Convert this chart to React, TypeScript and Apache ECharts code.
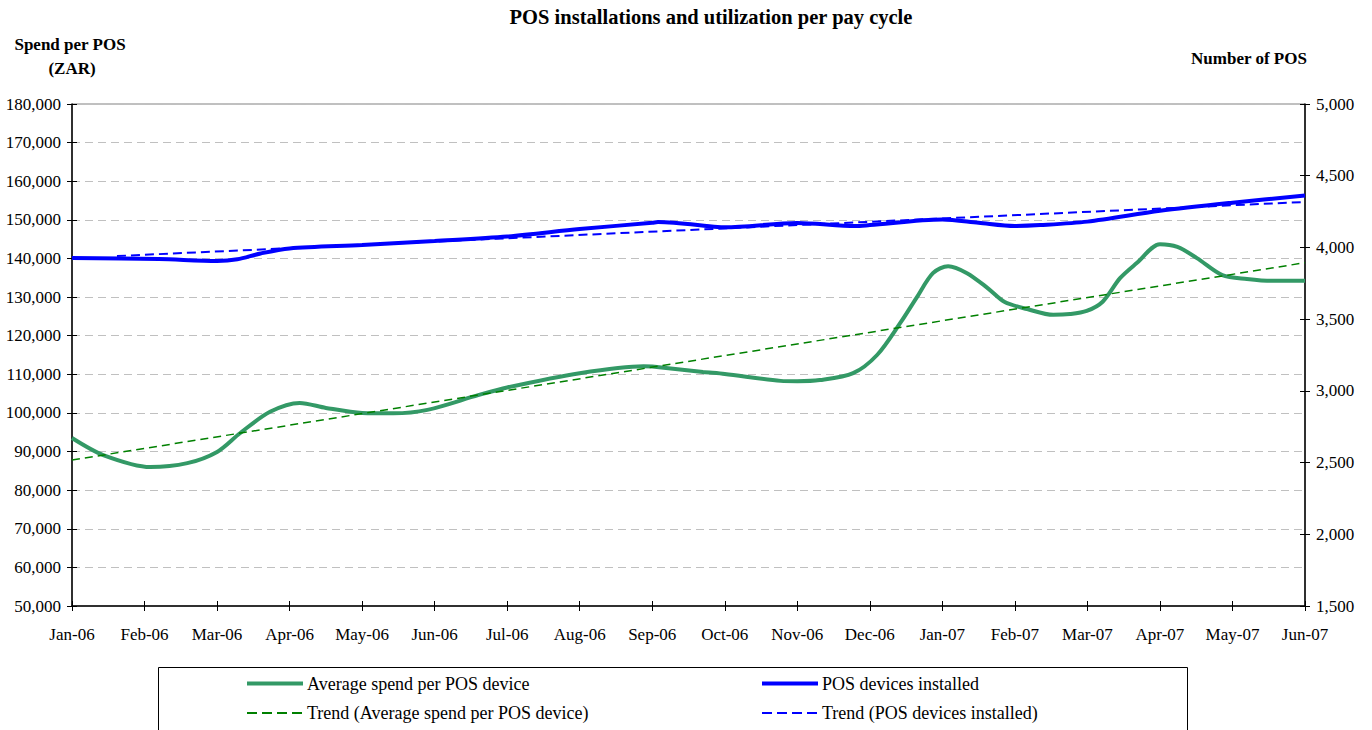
import React, { useEffect, useRef } from "react";
import * as echarts from "echarts";

const months = [
  "Jan-06", "Feb-06", "Mar-06", "Apr-06", "May-06", "Jun-06", "Jul-06", "Aug-06", "Sep-06",
  "Oct-06", "Nov-06", "Dec-06", "Jan-07", "Feb-07", "Mar-07", "Apr-07", "May-07", "Jun-07",
];

// Position in months since Jan-06 (pay cycles fall between month starts)
const spendX = [
  0, 0.43, 1.08, 1.59, 2.0, 2.32, 2.73, 3.14, 3.5, 4.0, 4.43, 4.9, 5.6, 6.0, 7.0, 7.88, 8.0,
  8.7, 9.0, 9.77, 10.0, 10.31, 10.77, 11.1, 11.42, 11.65, 11.87, 12.08, 12.34, 12.62, 12.86,
  13.17, 13.53, 13.76, 13.99, 14.21, 14.45, 14.68, 15.0, 15.24, 15.51, 15.86, 16.2, 16.56, 17.0,
];
const spendY = [
  93500, 89100, 86000, 87000, 89900, 94800, 100300, 102600, 101300, 100000, 99900, 100800,
  104600, 106600, 110300, 112100, 112000, 110600, 110100, 108300, 108200, 108500, 110300,
  115000, 123300, 130000, 136200, 138000, 136200, 132400, 128700, 126900, 125400, 125600,
  126400, 128800, 134900, 138800, 143700, 143000, 140100, 135700, 134700, 134200, 134200,
];

const posX = [
  0, 1.2, 2.0, 2.28, 2.6, 3.0, 4.0, 5.0, 6.0, 7.0, 8.0, 8.08, 8.9, 9.0, 10.0, 10.8, 11.0,
  12.0, 12.5, 13.0, 13.35, 14.0, 15.0, 16.0, 17.0,
];
const posY = [
  3926, 3919, 3905, 3917, 3958, 3993, 4017, 4045, 4076, 4128, 4172, 4177, 4142, 4140, 4170,
  4149, 4156, 4195, 4172, 4150, 4156, 4180, 4255, 4312, 4362,
];

const spendTrendX = [0, 17];
const spendTrendY = [87800, 138900];
const posTrendX = [0.62, 17];
const posTrendY = [3940, 4317];

const leftTicks = { min: 50000, max: 180000, interval: 10000 };
const rightTicks = { min: 1500, max: 5000, interval: 500 };

const NAME_SPEND = "Average spend per POS device";
const NAME_POS = "POS devices installed";
const NAME_SPEND_T = "Trend (Average spend per POS device)";
const NAME_POS_T = "Trend (POS devices installed)";

const GREEN = "#339966";
const DARK_GREEN = "#008000";
const BLUE = "#0000ff";

const zip = (xs: number[], ys: number[]) => xs.map((x, i) => [x, ys[i]]);

export default function App() {
  const ref = useRef<HTMLDivElement>(null);
  useEffect(() => {
    if (!ref.current) return;
    const chart = echarts.init(ref.current, null, { renderer: "svg" });
    const font = '"Liberation Serif", "Times New Roman", serif';
    const fmt = (v: number) => v.toLocaleString("en-US");
    const tickStyle = { color: "#000", width: 1 };
    const label = { color: "#000", fontSize: 17, fontFamily: font };
    const gridRect = { left: 72, right: 67, top: 104, bottom: 124 };
    const yBase = (t: any, pos: string, gridIndex: number) => ({
      type: "value",
      gridIndex,
      position: pos,
      min: t.min,
      max: t.max,
      interval: t.interval,
      axisLine: { show: true, lineStyle: { color: "#000", width: 1.5 } },
      axisTick: { show: true, length: 5, lineStyle: tickStyle },
    });
    const legendItem = (x: number, y: number, name: string, color: string, width: number, dash: number[] | null) => [
      {
        type: "line",
        shape: { x1: x, y1: y, x2: x + 56, y2: y },
        style: { stroke: color, lineWidth: width, lineDash: dash || undefined },
      },
      {
        type: "text", x: x + 60, y,
        style: { text: name, font: `18px ${font}`, fill: "#000", textVerticalAlign: "middle", textAlign: "left" },
      },
    ];
    const option: any = {
      animation: false,
      textStyle: { fontFamily: font },
      grid: [
        { ...gridRect, show: true, borderColor: "#808080", borderWidth: 1, backgroundColor: "transparent" },
        { ...gridRect, show: false },
      ],
      graphic: [
        {
          type: "text", x: 711, y: 17,
          style: { text: "POS installations and utilization per pay cycle", font: `bold 20.5px ${font}`, fill: "#000", textAlign: "center", textVerticalAlign: "middle" },
        },
        {
          type: "text", x: 70, y: 44,
          style: { text: "Spend per POS", font: `bold 17px ${font}`, fill: "#000", textAlign: "center", textVerticalAlign: "middle" },
        },
        {
          type: "text", x: 72, y: 68,
          style: { text: "(ZAR)", font: `bold 17px ${font}`, fill: "#000", textAlign: "center", textVerticalAlign: "middle" },
        },
        {
          type: "text", x: 1249, y: 58,
          style: { text: "Number of POS", font: `bold 17px ${font}`, fill: "#000", textAlign: "center", textVerticalAlign: "middle" },
        },
        {
          type: "rect", shape: { x: 158.5, y: 667.5, width: 1029, height: 80 },
          style: { fill: "none", stroke: "#000", lineWidth: 1 },
        },
        ...legendItem(247, 683.5, NAME_SPEND, GREEN, 4, null),
        ...legendItem(247, 713, NAME_SPEND_T, DARK_GREEN, 2, [10, 5]),
        ...legendItem(762, 683.5, NAME_POS, BLUE, 4, null),
        ...legendItem(762, 713, NAME_POS_T, BLUE, 2, [10, 5]),
      ],
      xAxis: [
        {
          type: "value", gridIndex: 0, min: 0, max: months.length - 1, interval: 1, position: "bottom",
          axisLine: { show: true, onZero: false, lineStyle: { color: "#000", width: 1.5 } },
          axisTick: { show: true, length: 5, lineStyle: tickStyle },
          axisLabel: { ...label, margin: 20, formatter: (v: number) => months[v] ?? "" },
          splitLine: { show: false },
        },
        {
          type: "value", gridIndex: 1, min: 0, max: months.length - 1, interval: 1, position: "bottom",
          axisLine: { show: false, onZero: false },
          axisTick: { show: true, inside: true, length: 5, lineStyle: tickStyle },
          axisLabel: { show: false },
          splitLine: { show: false },
        },
      ],
      yAxis: [
        {
          ...yBase(leftTicks, "left", 0),
          axisLabel: { ...label, margin: 11, formatter: fmt },
          splitLine: { show: true, lineStyle: { color: "#c0c0c0", width: 1, type: [8, 5] } },
        },
        {
          ...yBase(rightTicks, "right", 0),
          axisLabel: { ...label, margin: 11, formatter: fmt },
          splitLine: { show: false },
        },
        {
          ...yBase(leftTicks, "left", 1),
          axisLine: { show: false },
          axisTick: { show: true, inside: true, length: 5, lineStyle: tickStyle },
          axisLabel: { show: false }, splitLine: { show: false },
        },
        {
          ...yBase(rightTicks, "right", 1),
          axisLine: { show: false },
          axisTick: { show: true, inside: true, length: 5, lineStyle: tickStyle },
          axisLabel: { show: false }, splitLine: { show: false },
        },
      ],
      series: [
        {
          name: NAME_SPEND, type: "line", xAxisIndex: 0, yAxisIndex: 0, data: zip(spendX, spendY),
          smooth: 0.3, symbol: "none", lineStyle: { color: GREEN, width: 4 }, itemStyle: { color: GREEN }, z: 2,
        },
        {
          name: NAME_POS, type: "line", xAxisIndex: 0, yAxisIndex: 1, data: zip(posX, posY),
          smooth: 0.3, symbol: "none", lineStyle: { color: BLUE, width: 4 }, itemStyle: { color: BLUE }, z: 3,
        },
        {
          name: NAME_SPEND_T, type: "line", xAxisIndex: 0, yAxisIndex: 0, data: zip(spendTrendX, spendTrendY),
          symbol: "none", lineStyle: { color: DARK_GREEN, width: 1.5, type: [8, 5] }, itemStyle: { color: DARK_GREEN }, z: 4,
        },
        {
          name: NAME_POS_T, type: "line", xAxisIndex: 0, yAxisIndex: 1, data: zip(posTrendX, posTrendY),
          symbol: "none", lineStyle: { color: BLUE, width: 2, type: [9, 5] }, itemStyle: { color: BLUE }, z: 5,
        },
      ],
    };
    chart.setOption(option);
    return () => chart.dispose();
  }, []);
  return (
    <div
      ref={ref}
      style={{ position: "absolute", left: 0, top: 0, width: 1372, height: 730, background: "#fff" }}
    />
  );
}
